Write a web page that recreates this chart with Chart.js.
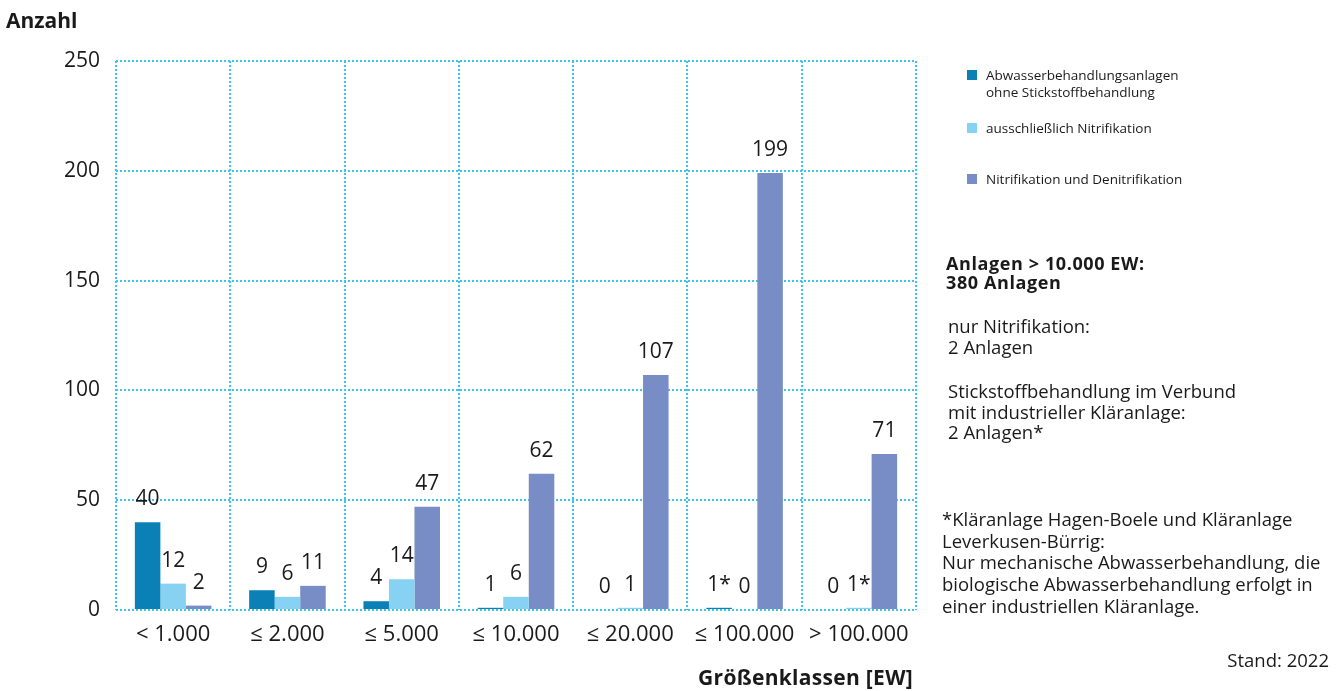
<!DOCTYPE html>
<html>
<head>
<meta charset="utf-8">
<script src="https://cdn.jsdelivr.net/npm/chart.js@4/dist/chart.umd.min.js"></script>
<style>
  html, body { margin: 0; padding: 0; background: #fff; }
  #wrap { position: relative; width: 1343px; height: 691px; font-family: "Open Sans", sans-serif; color: #1a1a1a; }
  canvas { position: absolute; left: 0; top: 0; }
  .t { position: absolute; white-space: nowrap; }
  .leg { position: absolute; font-size: 13.5px; line-height: 17px; white-space: nowrap; }
  .sw { position: absolute; width: 10px; height: 10px; }
</style>
</head>
<body>
<div id="wrap">
  <canvas id="c" width="1343" height="691"></canvas>
  <div class="t" style="left:6px; top:5px; font-size:21px; font-weight:700; line-height:30px;">Anzahl</div>
  <div class="t" style="right:430px; top:662px; font-size:21px; font-weight:700; line-height:30px; letter-spacing:0.3px;">Größenklassen [EW]</div>
  <div class="t" style="left:946px; top:254px; font-size:18px; font-weight:700; line-height:19px; letter-spacing:0.6px;">Anlagen &gt; 10.000 EW:<br>380 Anlagen</div>
  <div class="t" style="left:948px; top:316px; font-size:18.5px; line-height:20.5px;">nur Nitrifikation:<br>2 Anlagen</div>
  <div class="t" style="left:948px; top:381px; font-size:18.5px; line-height:20.5px;">Stickstoffbehandlung im Verbund<br>mit industrieller Kläranlage:<br>2 Anlagen*</div>
  <div class="t" style="left:942px; top:508px; font-size:18.5px; line-height:21.7px;">*Kläranlage Hagen-Boele und Kläranlage<br>Leverkusen-Bürrig:<br>Nur mechanische Abwasserbehandlung, die<br>biologische Abwasserbehandlung erfolgt in<br>einer industriellen Kläranlage.</div>
  <div class="t" style="right:14px; top:648px; font-size:18.5px; line-height:24px;">Stand: 2022</div>
  <div id="legend"></div>
</div>
<script>
const categories = ['< 1.000', '≤ 2.000', '≤ 5.000', '≤ 10.000', '≤ 20.000', '≤ 100.000', '> 100.000'];
const yTicks = [0, 50, 100, 150, 200, 250];

const seriesNames = [
  ['Abwasserbehandlungsanlagen', 'ohne Stickstoffbehandlung'],
  ['ausschließlich Nitrifikation'],
  ['Nitrifikation und Denitrifikation']
];
const ohneStickstoff = [40, 9, 4, 1, 0, 1, 0];
const nurNitrifikation = [12, 6, 14, 6, 1, 0, 1];
const nitriDenitri = [2, 11, 47, 62, 107, 199, 71];

// footnote markers (*) on value labels
const starOhne = [false, false, false, false, false, true, false];
const starNitri = [false, false, false, false, false, false, true];
const starNitriDeni = [false, false, false, false, false, false, false];

const colors = ['#0a80b6', '#87d1f3', '#788dc6'];
const gridColor = '#3cc3f0';

const datasets = [
  { label: seriesNames[0].join(' '), data: ohneStickstoff, stars: starOhne, backgroundColor: colors[0] },
  { label: seriesNames[1].join(' '), data: nurNitrifikation, stars: starNitri, backgroundColor: colors[1] },
  { label: seriesNames[2].join(' '), data: nitriDenitri, stars: starNitriDeni, backgroundColor: colors[2] }
];

const valueLabels = {
  id: 'valueLabels',
  afterDatasetsDraw(chart) {
    const ctx = chart.ctx;
    ctx.save();
    ctx.font = '21px "Open Sans", sans-serif';
    ctx.fillStyle = '#1a1a1a';
    ctx.textAlign = 'center';
    ctx.textBaseline = 'alphabetic';
    chart.data.datasets.forEach((ds, di) => {
      const meta = chart.getDatasetMeta(di);
      meta.data.forEach((bar, i) => {
        const txt = String(ds.data[i]) + (ds.stars[i] ? '*' : '');
        ctx.fillText(txt, bar.x, bar.y - 17);
      });
    });
    ctx.restore();
  }
};

new Chart(document.getElementById('c'), {
  type: 'bar',
  data: { labels: categories, datasets: datasets },
  options: {
    responsive: false,
    animation: false,
    layout: { padding: { left: 0, right: 427, top: 61, bottom: 0 } },
    plugins: { legend: { display: false }, tooltip: { enabled: false } },
    datasets: { bar: { categoryPercentage: 0.67, barPercentage: 1.0 } },
    scales: {
      x: {
        grid: { color: gridColor, lineWidth: 2, drawTicks: false, offset: true },
        border: { display: false, dash: [2, 2] },
        ticks: { color: '#1a1a1a', font: { family: '"Open Sans", sans-serif', size: 22 }, padding: 12, maxRotation: 0 },
        afterFit(scale) { scale.height = 81; }
      },
      y: {
        min: 0, max: 250,
        afterBuildTicks(scale) { scale.ticks = yTicks.map(v => ({ value: v })); },
        grid: { color: gridColor, lineWidth: 2, drawTicks: false },
        border: { display: false, dash: [2, 2] },
        ticks: { color: '#1a1a1a', font: { family: '"Open Sans", sans-serif', size: 21 }, padding: 16 },
        afterFit(scale) { scale.width = 116; }
      }
    }
  },
  plugins: [valueLabels]
});

// legend
const legend = document.getElementById('legend');
const legTops = [67, 120, 171];
seriesNames.forEach((lines, i) => {
  const sw = document.createElement('div');
  sw.className = 'sw';
  sw.style.left = '967px';
  sw.style.top = (legTops[i] + 3) + 'px';
  sw.style.background = colors[i];
  legend.appendChild(sw);
  const tx = document.createElement('div');
  tx.className = 'leg';
  tx.style.left = '986px';
  tx.style.top = legTops[i] + 'px';
  tx.innerHTML = lines.join('<br>');
  legend.appendChild(tx);
});
</script>
</body>
</html>
